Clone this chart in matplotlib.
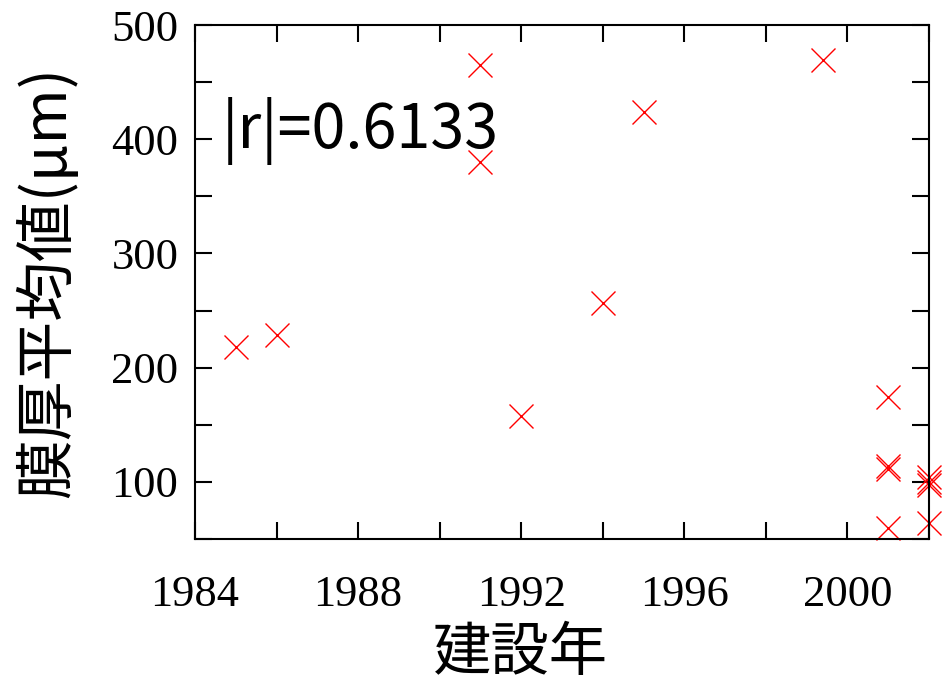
import numpy as np
import matplotlib.pyplot as plt
from matplotlib.ticker import MultipleLocator

# construction year vs mean film thickness
years = [1985, 1986, 1991, 1991, 1992, 1994, 1995, 1999.4,
         2001, 2001, 2001, 2001, 2002, 2002, 2002, 2002]
thick = [218, 229, 465, 380, 158, 257, 424, 469,
         174, 111, 114, 60, 104, 100, 97, 64]
r_text = '|r|=0.6133'

sans = ['Noto Sans CJK JP', 'DejaVu Sans']
serif = 'Liberation Serif'

fig = plt.figure(figsize=(9.44, 6.87), dpi=100)
ax = fig.add_axes([0.2066, 0.2154, 0.7775, 0.7482])

ax.plot(years, thick, linestyle='none', marker='x', markersize=17,
        markeredgewidth=1.0, color='#ff0000', clip_on=False)

ax.set_xlim(1984, 2002)
ax.set_ylim(50, 500)
ax.xaxis.set_major_locator(MultipleLocator(4))
ax.xaxis.set_minor_locator(MultipleLocator(2))
ax.yaxis.set_major_locator(MultipleLocator(100))
ax.yaxis.set_minor_locator(MultipleLocator(50))

ax.tick_params(which='both', direction='in', top=True, right=True,
               length=12, width=1.5)
ax.tick_params(axis='x', which='major', pad=26)
ax.tick_params(axis='y', which='major', pad=12)
for lab in ax.get_xticklabels() + ax.get_yticklabels():
    lab.set_fontfamily(serif)
    lab.set_fontsize(32)
for s in ax.spines.values():
    s.set_linewidth(1.5)

ax.text(0.037, 0.76, r_text, transform=ax.transAxes, family=sans,
        fontsize=44, va='baseline', ha='left')

# gnuplot placed the x label a bit left of centre
ax.set_xlabel('建設年', family=sans, fontsize=42, labelpad=6, x=0.443)
ax.set_ylabel('膜厚平均値(μm)', family=sans, fontsize=43, labelpad=23)

fig.savefig('out.png', dpi=100)
